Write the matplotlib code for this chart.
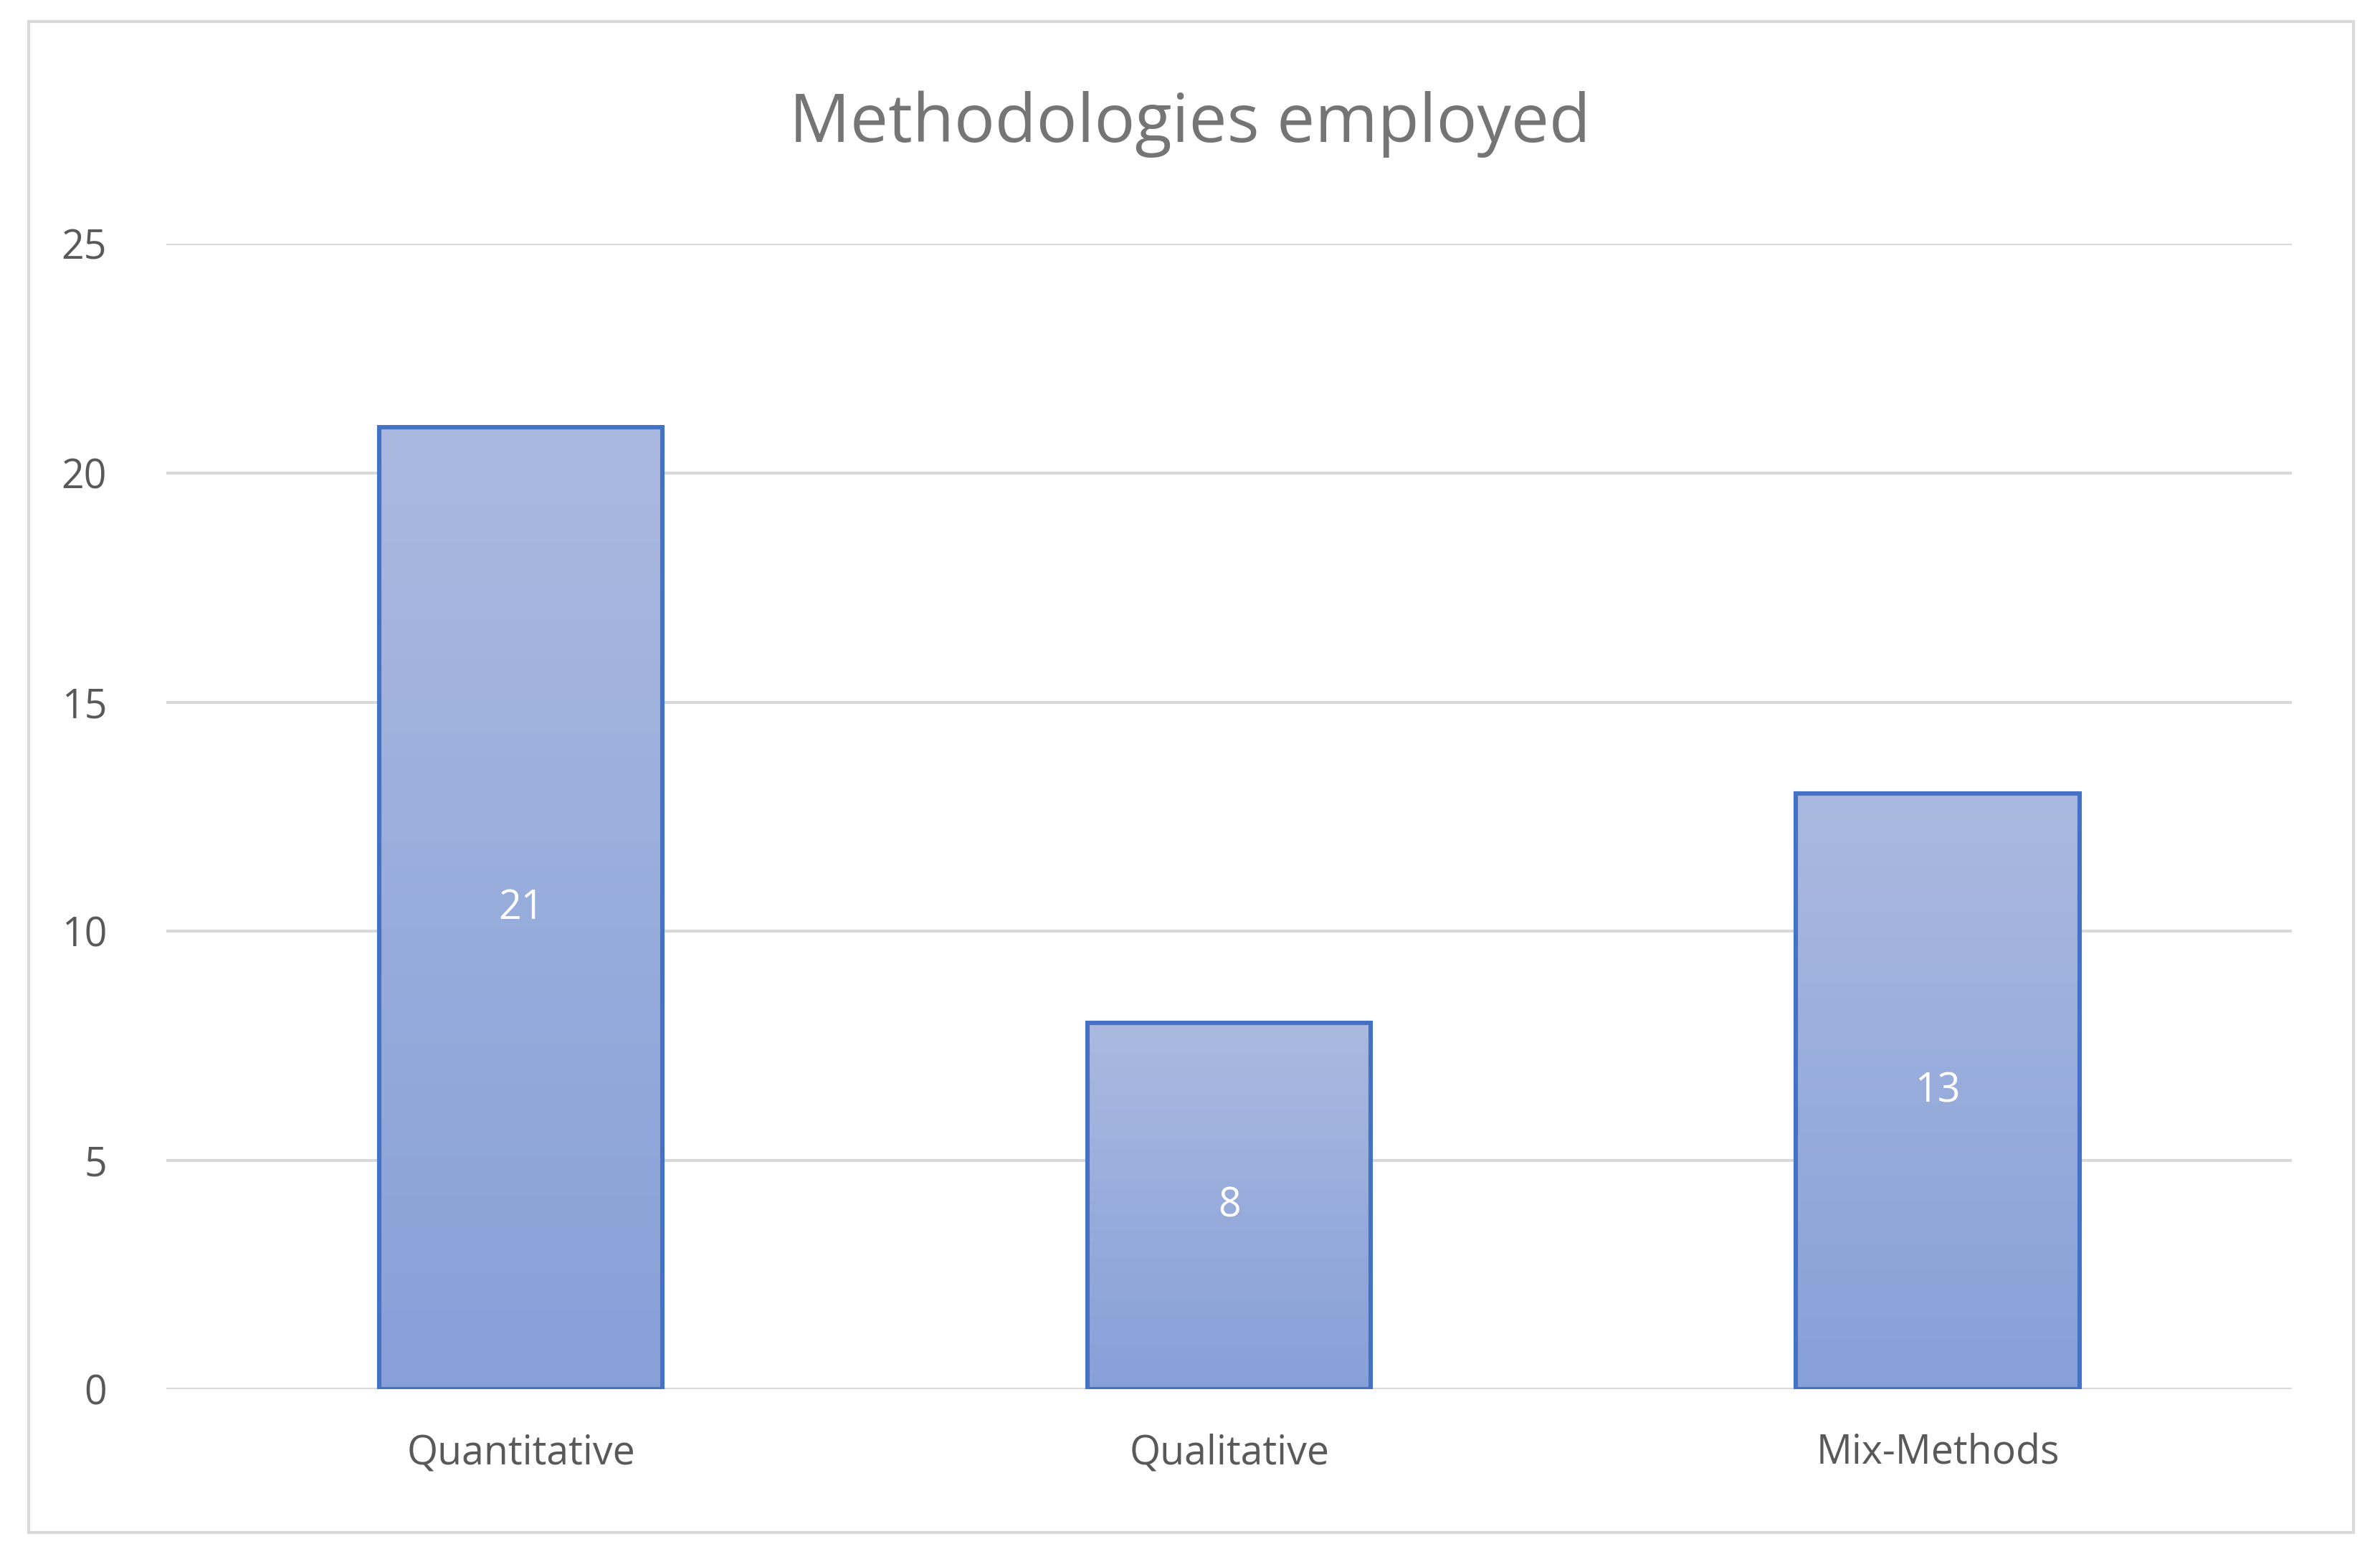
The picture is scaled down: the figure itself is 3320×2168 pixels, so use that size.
import numpy as np
import matplotlib.pyplot as plt
from matplotlib.patches import Rectangle

categories = ["Quantitative", "Qualitative", "Mix-Methods"]
values = [21, 8, 13]

plt.rcParams['font.family'] = ['Open Sans', 'DejaVu Sans']

fig = plt.figure(figsize=(16.6, 10.84), dpi=200)
ax = fig.add_axes([0.070, 0.106, 0.893, 0.737])

# outer chart border
fig.patches.append(Rectangle((0.012, 0.014), 0.977, 0.972, transform=fig.transFigure,
                             fill=False, edgecolor="#D9D9D9", linewidth=1.5))

grad = np.linspace(0, 1, 256).reshape(-1, 1)
from matplotlib.colors import LinearSegmentedColormap
cmap = LinearSegmentedColormap.from_list("g", ["#87A0D8", "#AAB9E0"])

x = np.arange(len(categories))
bw = 0.4
for xi, v in zip(x, values):
    im = ax.imshow(grad, extent=(xi - bw / 2, xi + bw / 2, 0, v), origin="lower",
                   cmap=cmap, aspect="auto", zorder=2)
    r = Rectangle((xi - bw / 2, 0), bw, v, fill=False, edgecolor="#4472C4",
                  linewidth=2.2, zorder=3)
    ax.add_patch(r)
    im.set_clip_path(r)
    ax.text(xi, v / 2, str(v), ha="center", va="center", color="white",
            fontsize=20, zorder=4)

ax.set_xlim(-0.5, 2.5)
ax.set_ylim(0, 25)
ax.set_yticks(range(0, 26, 5))
ax.set_xticks(x)
ax.set_xticklabels(categories)
ax.grid(axis="y", color="#D9D9D9", linewidth=1.5, zorder=0)
ax.set_axisbelow(True)
for s in ax.spines.values():
    s.set_visible(False)
ax.tick_params(length=0, labelsize=20, colors="#595959", pad=12)
ax.tick_params(axis="x", pad=22)
ax.tick_params(axis="y", pad=30)

fig.text(0.5, 0.92, "Methodologies employed", ha="center", va="center",
         fontsize=34, color="#757575")

fig.savefig("out.png", dpi=200)
